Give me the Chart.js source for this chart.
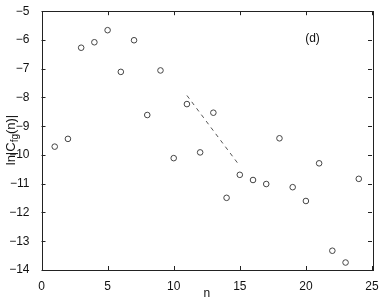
<!DOCTYPE html>
<html>
<head>
<meta charset="utf-8">
<script src="https://cdn.jsdelivr.net/npm/chart.js@4.4.0/dist/chart.umd.min.js"></script>
<style>
  html, body { margin: 0; padding: 0; background: #fff; }
  #wrap { width: 382px; height: 302px; position: relative; }
</style>
</head>
<body>
<div id="wrap"><canvas id="chart" width="382" height="302"></canvas></div>
<script>
// valori
var nValues = [1, 2, 3, 4, 5, 6, 7, 8, 9, 10, 11, 12, 13, 14, 15, 16, 17, 18, 19, 20, 21, 22, 23, 24];
var lnC = [-9.71, -9.44, -6.27, -6.08, -5.66, -7.11, -6.01, -8.61, -7.06, -10.11, -8.23, -9.91,
           -8.53, -11.49, -10.69, -10.87, -11.01, -9.42, -11.12, -11.60, -10.29, -13.33, -13.74, -10.83];
// retta tratteggiata
var fitX = [11, 14.85];
var fitY = [-7.93, -10.29];
var xTicks = [0, 5, 10, 15, 20, 25];
var yTicks = [-14, -13, -12, -11, -10, -9, -8, -7, -6, -5];

var FONT = '"Liberation Sans", Arial, Helvetica, sans-serif';

function toPoints(xs, ys) {
    var pts = [];
    for (var i = 0; i < xs.length; i++) {
        pts.push({x: xs[i], y: ys[i]});
    }
    return pts;
}

// plugin per box, tick interni ed etichette
var framePlugin = {
    id: 'frame',
    afterDraw: function(chart) {
        var ctx = chart.ctx;
        var a = chart.chartArea;
        var xs = chart.scales.x, ys = chart.scales.y;
        ctx.save();
        ctx.strokeStyle = '#222';
        ctx.lineWidth = 1;
        ctx.strokeRect(Math.round(a.left) + 0.5, Math.round(a.top) + 0.5,
                       Math.round(a.right - a.left), Math.round(a.bottom - a.top));
        var L = 4;
        ctx.beginPath();
        xTicks.forEach(function(v) {
            var px = Math.round(xs.getPixelForValue(v)) + 0.5;
            ctx.moveTo(px, a.bottom); ctx.lineTo(px, a.bottom - L);
            ctx.moveTo(px, a.top); ctx.lineTo(px, a.top + L);
        });
        yTicks.forEach(function(v) {
            var py = Math.round(ys.getPixelForValue(v)) + 0.5;
            ctx.moveTo(a.left, py); ctx.lineTo(a.left + L, py);
            ctx.moveTo(a.right, py); ctx.lineTo(a.right - L, py);
        });
        ctx.stroke();

        // etichetta (d)
        ctx.fillStyle = '#111';
        ctx.font = '12px ' + FONT;
        ctx.textAlign = 'center';
        ctx.textBaseline = 'middle';
        ctx.fillText('(d)', xs.getPixelForValue(20.5), ys.getPixelForValue(-5.94));

        // titolo asse x
        ctx.font = '12px ' + FONT;
        ctx.fillText('n', (a.left + a.right) / 2, 294);

        // titolo asse y con pedice
        ctx.translate(11, 140);
        ctx.rotate(-Math.PI / 2);
        ctx.textBaseline = 'middle';
        ctx.textAlign = 'left';
        var big = '13px ' + FONT, small = '10px ' + FONT;
        ctx.font = big;
        var w1 = ctx.measureText('ln|C').width;
        var w3 = ctx.measureText('(n)|').width;
        ctx.font = small;
        var w2 = ctx.measureText('fg').width;
        var x0 = -(w1 + w2 + w3) / 2;
        ctx.font = big;
        ctx.fillText('ln|C', x0, 0);
        ctx.font = small;
        ctx.fillText('fg', x0 + w1, 4);
        ctx.font = big;
        ctx.fillText('(n)|', x0 + w1 + w2, 0);
        ctx.restore();
    }
};

var ctx = document.getElementById('chart').getContext('2d');
var chart = new Chart(ctx, {
    type: 'scatter',
    data: {
        datasets: [{
            data: toPoints(nValues, lnC),
            pointStyle: 'circle',
            pointRadius: 2.8,
            pointBorderWidth: 1,
            pointBorderColor: '#444',
            pointBackgroundColor: 'rgba(0,0,0,0)',
            showLine: false
        }, {
            data: toPoints(fitX, fitY),
            showLine: true,
            borderColor: '#555',
            borderWidth: 1,
            borderDash: [4, 4],
            pointRadius: 0
        }]
    },
    options: {
        responsive: false,
        animation: false,
        devicePixelRatio: 1,
        layout: { padding: { top: 10, right: 10, left: 0, bottom: 0 } },
        plugins: { legend: { display: false }, tooltip: { enabled: false } },
        scales: {
            x: {
                type: 'linear',
                min: 0, max: 25,
                afterFit: function(s) { s.height = 32; },
                afterBuildTicks: function(s) { s.ticks = xTicks.map(function(v) { return {value: v}; }); },
                grid: { display: false },
                border: { display: false },
                ticks: {
                    padding: 1,
                    autoSkip: false,
                    maxRotation: 0,
                    color: '#111',
                    font: { family: FONT, size: 12 }
                }
            },
            y: {
                type: 'linear',
                min: -14, max: -5,
                afterFit: function(s) { s.width = 41.5; },
                afterBuildTicks: function(s) { s.ticks = yTicks.map(function(v) { return {value: v}; }); },
                grid: { display: false },
                border: { display: false },
                ticks: {
                    padding: 4,
                    autoSkip: false,
                    color: '#111',
                    font: { family: FONT, size: 12 },
                    callback: function(v) { return String(v).replace('-', '\u2212'); }
                }
            }
        }
    },
    plugins: [framePlugin]
});
</script>
</body>
</html>
